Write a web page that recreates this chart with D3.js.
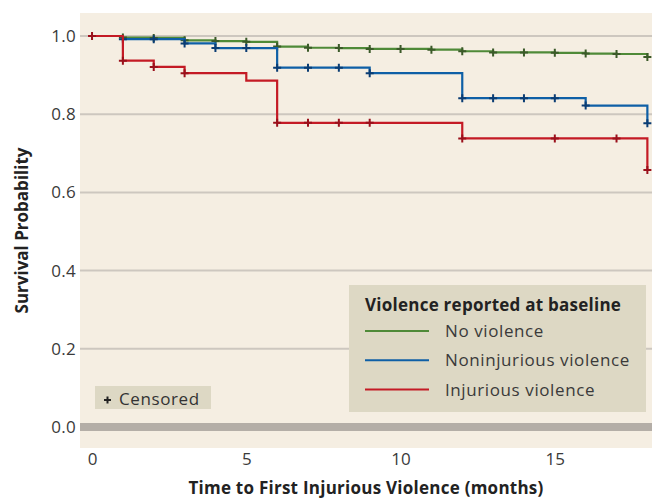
<!DOCTYPE html>
<html><head><meta charset="utf-8">
<script src="https://cdn.jsdelivr.net/npm/d3@7"></script>
<style>
html,body{margin:0;padding:0;background:#fff;}
svg{display:block;font-family:"Open Sans",Lato,sans-serif;}
</style></head>
<body><svg id="chart" width="652" height="498"></svg>
<script>
// ---- data ----
const months = [0,1,2,3,4,5,6,7,8,9,10,11,12,13,14,15,16,17,18];
const noViolence    = [1.0,0.996,0.995,0.989,0.987,0.985,0.973,0.970,0.969,0.967,0.967,0.965,0.961,0.958,0.958,0.957,0.955,0.954,0.946];
const nonInjurious  = [1.0,0.992,0.992,0.981,0.969,0.969,0.919,0.919,0.919,0.905,0.905,0.905,0.841,0.841,0.841,0.841,0.822,0.822,0.777];
const injurious     = [1.0,0.937,0.921,0.905,0.905,0.886,0.778,0.778,0.778,0.778,0.778,0.778,0.738,0.738,0.738,0.738,0.738,0.738,0.657];
const censorNoViolence   = [1,2,3,4,5,6,7,8,9,10,11,12,13,14,15,16,17,18];
const censorNonInjurious = [1,2,3,4,5,6,7,8,9,12,13,14,15,16,18];
const censorInjurious    = [0,1,2,3,6,7,8,9,12,15,17,18];
const seriesNames = ["No violence","Noninjurious violence","Injurious violence"];
const xTicks = [0,5,10,15];
const yTicks = [0.0,0.2,0.4,0.6,0.8,1.0];

const series = [
  {name: seriesNames[0], values: noViolence,   censor: censorNoViolence,   line:"#4f8a38", mark:"#3b5a29"},
  {name: seriesNames[1], values: nonInjurious, censor: censorNonInjurious, line:"#0e5fa6", mark:"#0a3c73"},
  {name: seriesNames[2], values: injurious,    censor: censorInjurious,    line:"#c41a25", mark:"#9a101b"}
];

const FONT = "'Open Sans', Lato, sans-serif";
const svg = d3.select("#chart");
const L = 80, R = 652, T = 13, B = 448;
const x = d3.scaleLinear().domain([-0.39, 18.15]).range([L, R]);
const y = d3.scaleLinear().domain([0, 1]).range([427, 36]);

// plot background
svg.append("rect").attr("x", L).attr("y", T).attr("width", R - L).attr("height", B - T).attr("fill", "#f5eee2");

// gridlines
svg.append("g").selectAll("line").data(yTicks.filter(d => d > 0)).join("line")
  .attr("x1", L).attr("x2", R).attr("y1", d => y(d)).attr("y2", d => y(d))
  .attr("stroke", "#cdc7bf").attr("stroke-width", 2);
svg.append("line").attr("x1", L).attr("x2", R).attr("y1", y(0)).attr("y2", y(0))
  .attr("stroke", "#b4aea7").attr("stroke-width", 8);

// y axis
const yAxis = d3.axisLeft(y).tickValues(yTicks).tickFormat(d3.format(".1f")).tickSize(0).tickPadding(4);
const gy = svg.append("g").attr("transform", `translate(${L},0)`).call(yAxis);
gy.select(".domain").remove();
gy.selectAll("text").attr("font-size", 17).attr("fill", "#3a3a3a").attr("font-family", FONT).attr("letter-spacing", 0.3);

// x axis
const xAxis = d3.axisBottom(x).tickValues(xTicks).tickSize(0).tickPadding(5);
const gx = svg.append("g").attr("transform", `translate(0,${B})`).call(xAxis);
gx.select(".domain").remove();
gx.selectAll("text").attr("font-size", 17).attr("fill", "#3a3a3a").attr("font-family", FONT);

// axis titles
svg.append("text").attr("x", (L + R) / 2).attr("y", 494).attr("text-anchor", "middle")
  .attr("font-size", 17).attr("font-weight", "bold").attr("fill", "#222").attr("letter-spacing", 0.25)
  .text("Time to First Injurious Violence (months)");
svg.append("text").attr("transform", `translate(28,${(T + B) / 2}) rotate(-90)`).attr("text-anchor", "middle")
  .attr("font-size", 17).attr("font-weight", "bold").attr("fill", "#222")
  .text("Survival Probability");

// curves
const line = d3.line().x(d => x(d[0])).y(d => y(d[1])).curve(d3.curveStepAfter);
const plus = 4;
series.forEach(s => {
  const pts = months.map((m, i) => [m, s.values[i]]);
  svg.append("path").attr("d", line(pts)).attr("fill", "none")
    .attr("stroke", s.line).attr("stroke-width", 2.2);
  const g = svg.append("g");
  s.censor.forEach(t => {
    const cx = x(t), cy = y(s.values[months.indexOf(t)]);
    g.append("path").attr("d", `M${cx - plus},${cy}H${cx + plus}M${cx},${cy - plus}V${cy + plus}`)
      .attr("stroke", s.mark).attr("stroke-width", 2);
  });
});

// censored box
svg.append("rect").attr("x", 95).attr("y", 386).attr("width", 116).attr("height", 23).attr("fill", "#ddd8c4");
svg.append("path").attr("d", "M104,400H111M107.5,396.5V403.5").attr("stroke", "#222").attr("stroke-width", 2);
svg.append("text").attr("x", 119).attr("y", 404.5).attr("font-size", 17).attr("letter-spacing", 0.6).attr("fill", "#333").text("Censored");

// legend
const lg = svg.append("g");
lg.append("rect").attr("x", 349).attr("y", 285).attr("width", 297).attr("height", 127).attr("fill", "#ddd8c4");
lg.append("text").attr("x", 365).attr("y", 310.5).attr("font-size", 17).attr("font-weight", "bold").attr("letter-spacing", 0.25).attr("fill", "#222")
  .text("Violence reported at baseline");
series.forEach((s, i) => {
  const ly = 331 + i * 29.3;
  lg.append("line").attr("x1", 365).attr("x2", 429).attr("y1", ly).attr("y2", ly)
    .attr("stroke", s.line).attr("stroke-width", 2);
  lg.append("text").attr("x", 445).attr("y", ly + 6).attr("font-size", 17).attr("letter-spacing", 0.6).attr("fill", "#3a3a3a").text(s.name);
});
</script></body></html>
